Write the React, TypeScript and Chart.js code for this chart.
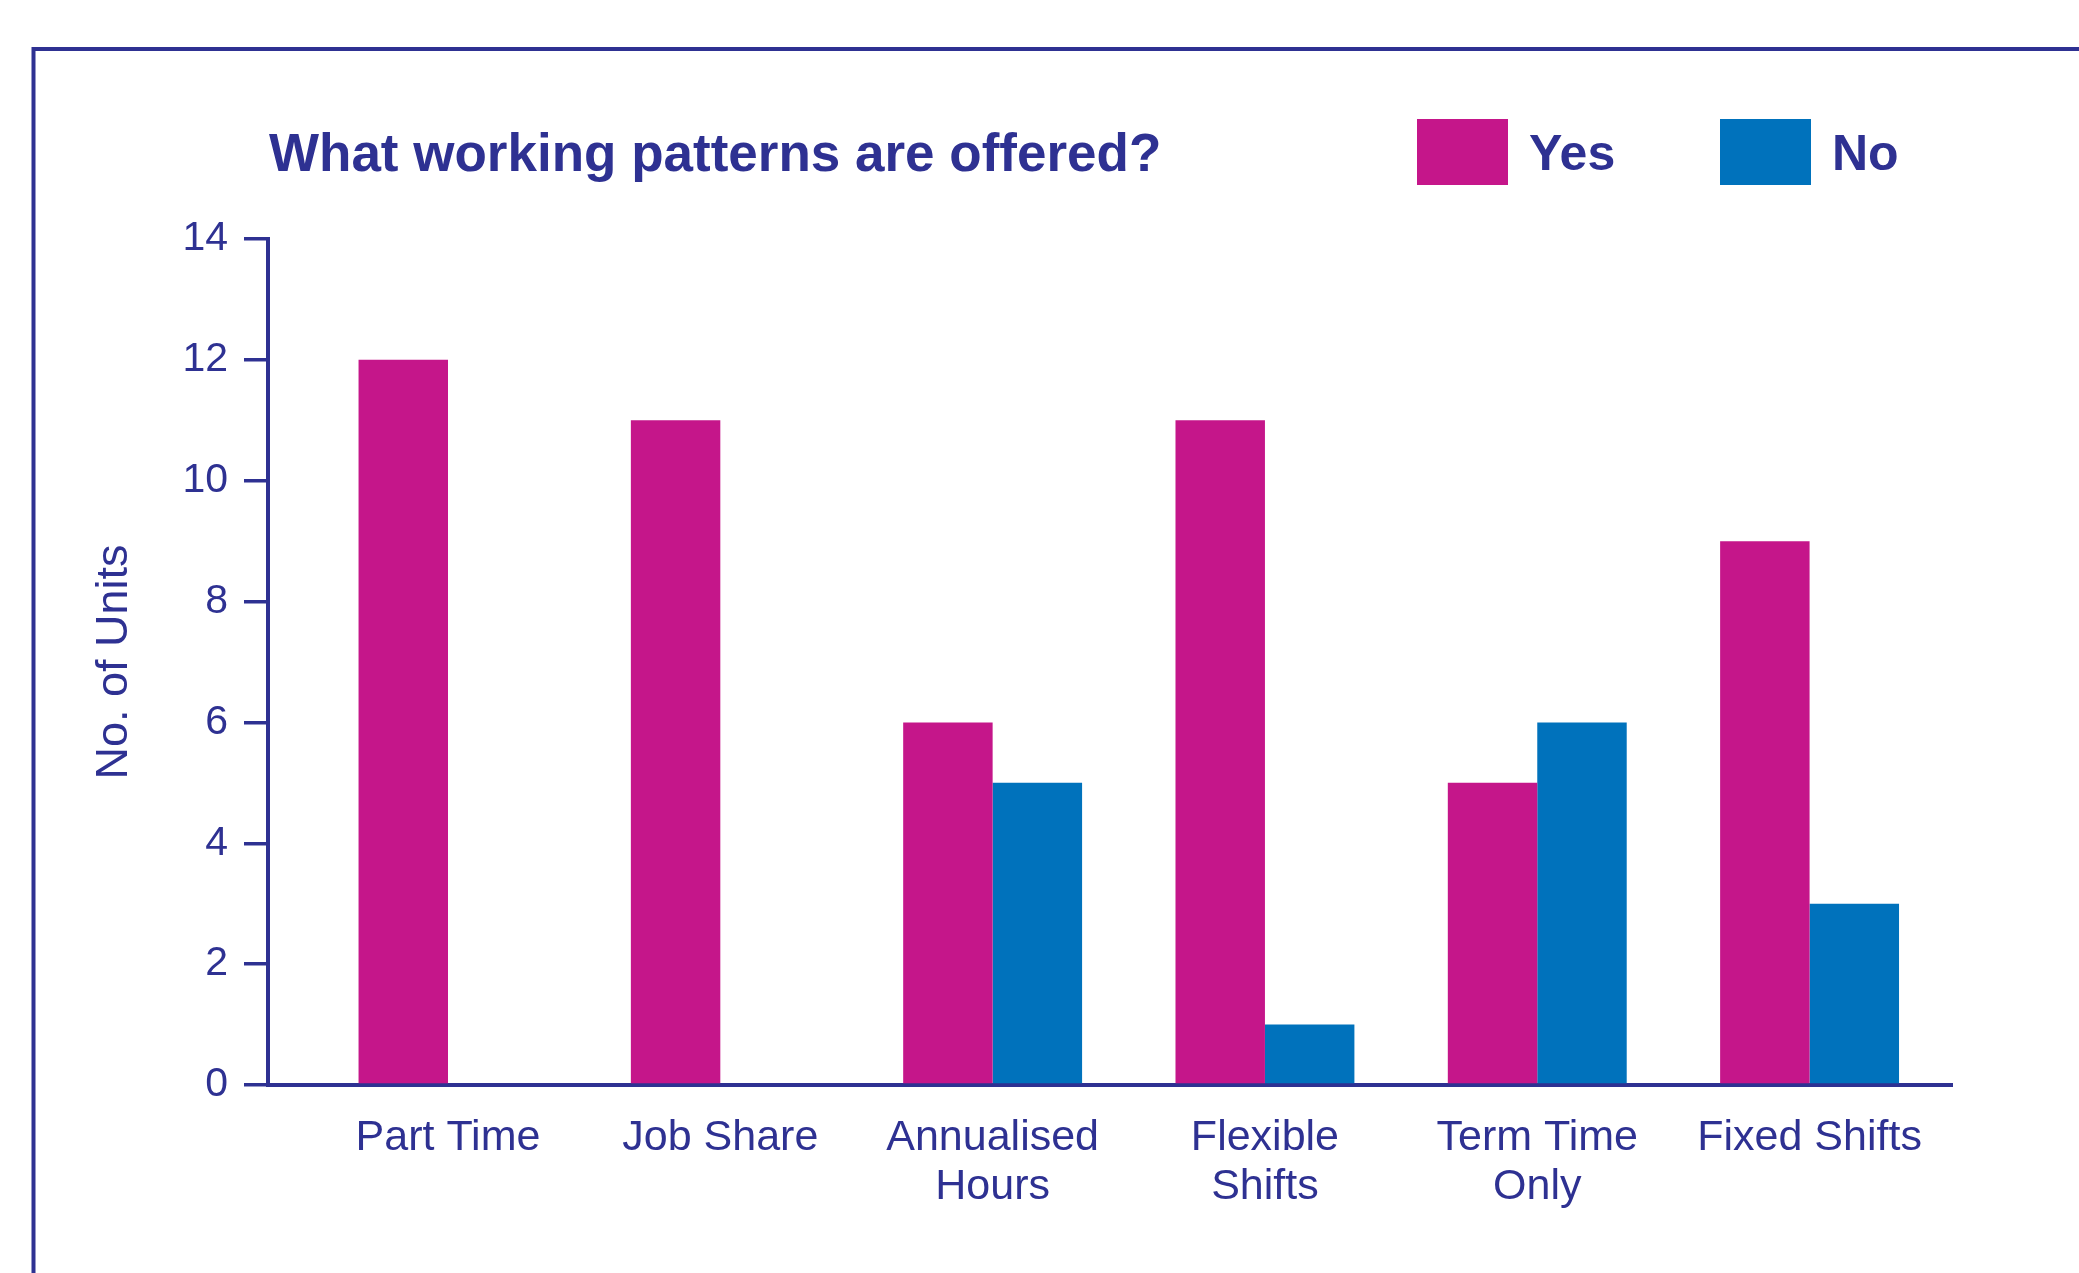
import React, { useEffect, useRef } from "react";
import { Chart, registerables } from "chart.js";

Chart.register(...registerables);

// ---- data ----
const categories: string[][] = [
  ["Part Time"],
  ["Job Share"],
  ["Annualised", "Hours"],
  ["Flexible", "Shifts"],
  ["Term Time", "Only"],
  ["Fixed Shifts"],
];
const yesValues = [12, 11, 6, 11, 5, 9];
const noValues = [0, 0, 5, 1, 6, 3];
const seriesNames = ["Yes", "No"];
const yMin = 0;
const yMax = 14;
const yStep = 2;
const chartTitle = "What working patterns are offered?";
const yAxisTitle = "No. of Units";

// ---- styles ----
const NAVY = "#2E3192";
const MAGENTA = "#C5168A";
const BLUE = "#0072BC";
const FONT = "'Liberation Sans', Arial, Helvetica, sans-serif";

const W = 2079;
const H = 1273;

const decorPlugin = {
  id: "decor",
  beforeDraw(chart: any) {
    const ctx = chart.ctx;
    ctx.save();
    ctx.fillStyle = "#ffffff";
    ctx.fillRect(0, 0, chart.width, chart.height);
    ctx.strokeStyle = NAVY;
    ctx.lineWidth = 4;
    ctx.strokeRect(33.5, 49, chart.width + 200, chart.height + 200);
    ctx.restore();
  },
  afterDraw(chart: any) {
    const ctx = chart.ctx;
    ctx.save();
    ctx.fillStyle = NAVY;
    ctx.textBaseline = "middle";
    ctx.textAlign = "left";
    ctx.font = `bold 53px ${FONT}`;
    ctx.fillText(chartTitle, 269, 156);

    const swatchX = [1417, 1720];
    chart.data.datasets.forEach((ds: any, i: number) => {
      const x = swatchX[i];
      ctx.fillStyle = ds.backgroundColor;
      ctx.fillRect(x, 119, 91, 66);
      ctx.fillStyle = NAVY;
      ctx.font = `bold 50px ${FONT}`;
      ctx.fillText(ds.label, x + 112, 156);
    });
    ctx.restore();
  },
};

export default function App() {
  const ref = useRef<HTMLCanvasElement | null>(null);

  useEffect(() => {
    if (!ref.current) return;
    const chart = new Chart(ref.current, {
      type: "bar",
      data: {
        datasets: [
          {
            label: seriesNames[0],
            data: yesValues.map((v, i) => ({ x: i, y: v })),
            backgroundColor: MAGENTA,
            borderWidth: 0,
            categoryPercentage: 0.657,
            barPercentage: 1.0,
          },
          {
            label: seriesNames[1],
            data: noValues.map((v, i) => ({ x: i, y: v })),
            backgroundColor: BLUE,
            borderWidth: 0,
            categoryPercentage: 0.657,
            barPercentage: 1.0,
          },
        ],
      },
      options: {
        responsive: false,
        animation: false,
        devicePixelRatio: 1,
        layout: { padding: { left: 0, top: 239, right: 127, bottom: 0 } },
        plugins: {
          legend: { display: false },
          title: { display: false },
          tooltip: { enabled: false },
        },
        scales: {
          x: {
            type: "linear",
            offset: false,
            min: -0.661,
            max: 5.523,
            afterBuildTicks: (scale: any) => {
              scale.ticks = categories.map((_, i) => ({ value: i }));
            },
            afterFit: (scale: any) => {
              scale.height = 188;
            },
            grid: { display: true, offset: false, drawOnChartArea: false, drawTicks: false },
            border: { display: true, color: NAVY, width: 4 },
            ticks: {
              autoSkip: false,
              maxRotation: 0,
              minRotation: 0,
              padding: 29,
              color: NAVY,
              font: { family: FONT, size: 43, lineHeight: 1.13 },
              callback: (v: any) => categories[Math.round(v)] ?? "",
            },
          },
          y: {
            min: yMin,
            max: yMax,
            afterFit: (scale: any) => {
              scale.width = 268;
            },
            grid: {
              drawOnChartArea: false,
              drawTicks: true,
              tickLength: 24,
              color: NAVY,
              lineWidth: 3.5,
            },
            border: { display: true, color: NAVY, width: 4 },
            ticks: {
              stepSize: yStep,
              padding: 16,
              color: NAVY,
              font: { family: FONT, size: 41 },
            },
            title: {
              display: true,
              text: yAxisTitle,
              color: NAVY,
              font: { family: FONT, size: 45 },
              padding: { top: 88, bottom: 0 },
            },
          },
        },
      },
      plugins: [decorPlugin],
    } as any);
    return () => chart.destroy();
  }, []);

  return (
    <div style={{ position: "absolute", left: 0, top: 0, width: W, height: H }}>
      <canvas ref={ref} width={W} height={H} style={{ width: W, height: H, display: "block" }} />
    </div>
  );
}
